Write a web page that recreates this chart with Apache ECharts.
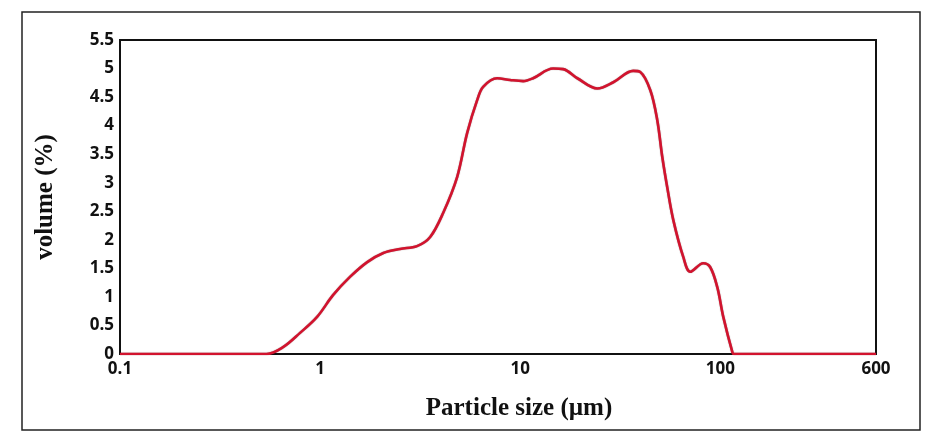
<!DOCTYPE html>
<html>
<head>
<meta charset="utf-8">
<script src="https://cdn.jsdelivr.net/npm/echarts@6/dist/echarts.min.js"></script>
<style>html,body{margin:0;padding:0;background:#fff;}#c{width:941px;height:447px;}</style>
</head>
<body>
<div id="c"></div>
<script>
// Particle size (µm)
var sizes = [0.1, 0.3, 0.54, 0.653, 0.794, 0.966, 1.16, 1.41, 1.72, 2.07, 2.51, 3.05, 3.55, 4.12, 4.84, 5.43, 6.1, 6.53, 7.67, 8.9, 10.35, 11.6, 14.6, 16.4, 19.3, 24.3, 29.2, 36.7, 39.8, 44.7, 48.4, 51.3, 54.3, 58.2, 65.3, 70.8, 82.2, 89.1, 96.6, 103.5, 115, 117, 300, 600];
// volume (%)
var volume = [0, 0, 0, 0.12, 0.37, 0.65, 1.03, 1.35, 1.61, 1.77, 1.84, 1.89, 2.05, 2.47, 3.1, 3.87, 4.45, 4.68, 4.83, 4.8, 4.78, 4.83, 5.0, 4.99, 4.83, 4.65, 4.76, 4.96, 4.94, 4.62, 4.1, 3.45, 2.92, 2.35, 1.7, 1.44, 1.59, 1.52, 1.17, 0.65, 0.03, 0, 0, 0];
var xTicks = [0.1, 1, 10, 100, 600];
var yTicks = [0, 0.5, 1, 1.5, 2, 2.5, 3, 3.5, 4, 4.5, 5, 5.5];

var points = sizes.map(function (s, i) { return [s, volume[i]]; });

var chart = echarts.init(document.getElementById('c'), null, {renderer: 'canvas'});
var labelFont = {fontFamily: 'Open Sans', fontSize: 17, fontWeight: 'bold', color: '#111'};
chart.setOption({
  animation: false,
  backgroundColor: '#fff',
  grid: {left: 120, top: 40, right: 65, bottom: 93, show: true, borderColor: '#111', borderWidth: 2, backgroundColor: 'transparent'},
  graphic: [{
    type: 'rect', shape: {x: 22, y: 12, width: 898, height: 418},
    style: {fill: 'none', stroke: '#222', lineWidth: 1.5}, silent: true
  }],
  xAxis: {
    type: 'log', logBase: 10, min: xTicks[0], max: xTicks[xTicks.length - 1],
    name: 'Particle size (µm)', nameLocation: 'middle', nameGap: 42,
    nameTextStyle: {fontFamily: 'Liberation Serif', fontSize: 25, fontWeight: 'bold', color: '#111', padding: [0, 0, 0, 42]},
    axisLine: {show: false}, axisTick: {show: false}, splitLine: {show: false}, minorTick: {show: false},
    axisLabel: Object.assign({margin: 7, showMinLabel: true, showMaxLabel: true, formatter: function (v) {
      var best = xTicks[0];
      xTicks.forEach(function (t) { if (Math.abs(Math.log10(t) - Math.log10(v)) < Math.abs(Math.log10(best) - Math.log10(v))) best = t; });
      return String(best);
    }}, labelFont)
  },
  yAxis: {
    type: 'value', min: yTicks[0], max: yTicks[yTicks.length - 1], interval: 0.5,
    name: 'volume (%)', nameLocation: 'middle', nameGap: 62,
    nameTextStyle: {fontFamily: 'Liberation Serif', fontSize: 25, fontWeight: 'bold', color: '#111'},
    axisLine: {show: false}, axisTick: {show: false}, splitLine: {show: false},
    axisLabel: Object.assign({margin: 6}, labelFont)
  },
  series: [{
    type: 'line', data: points, smooth: 0.35, showSymbol: false,
    lineStyle: {color: '#d2132e', width: 2.6, shadowColor: 'rgba(60,0,0,0.5)', shadowBlur: 1}
  }]
});
</script>
</body>
</html>
